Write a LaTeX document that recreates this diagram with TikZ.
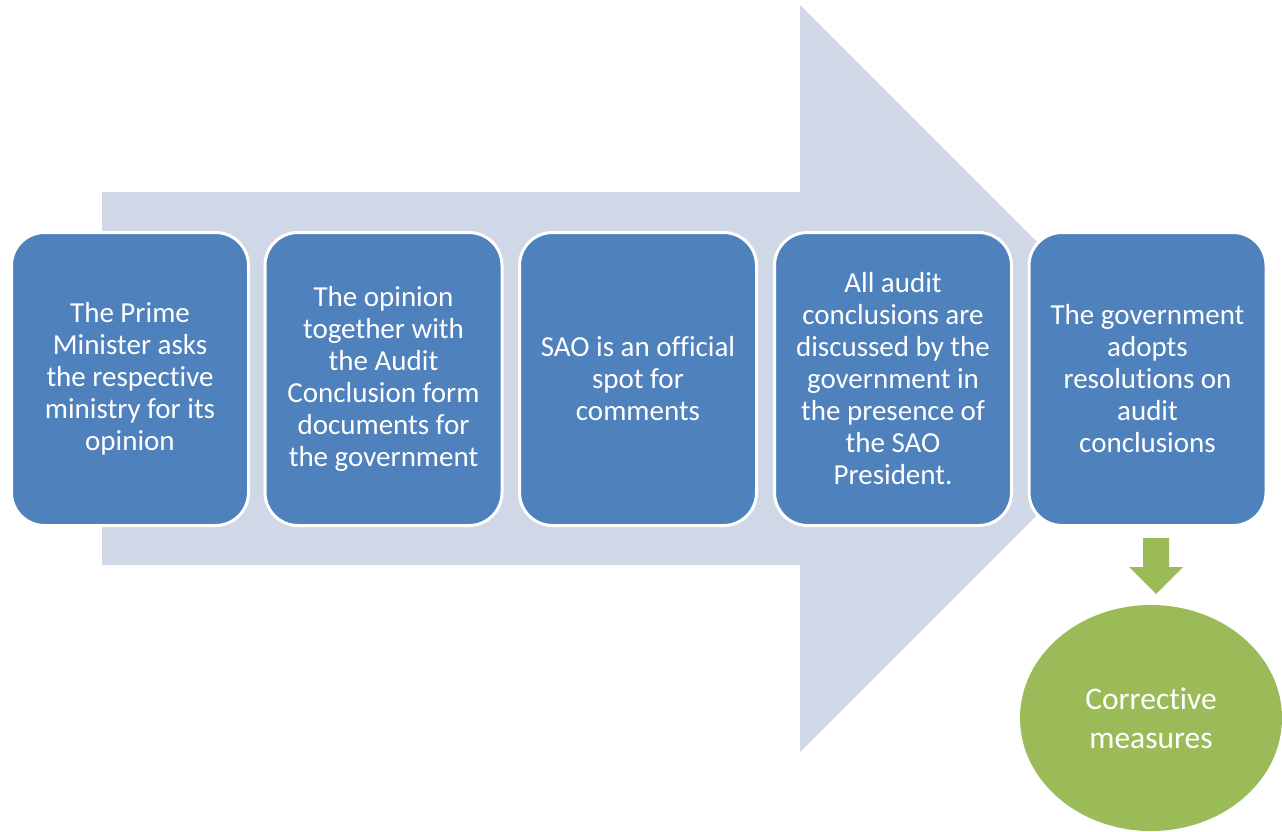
\documentclass[tikz,border=0pt]{standalone}
\usepackage{fontspec}
\setmainfont{Carlito}[Ligatures=NoCommon,RawFeature={-clig;-calt;-dlig}]
\usetikzlibrary{shapes.geometric}
\definecolor{boxblue}{HTML}{4F81BD}
\definecolor{arrowgrey}{HTML}{D0D8E8}
\definecolor{leafgreen}{HTML}{9BBB59}
\begin{document}
\begin{tikzpicture}[x=1pt,y=-1pt,
  stepbox/.style={draw=white, line width=3pt, fill=boxblue, rounded corners=33pt,
    minimum width=237pt, minimum height=293pt, text=white, align=center,
    font=\fontsize{29}{32}\selectfont, inner sep=0pt},
  goal/.style={ellipse, fill=leafgreen, minimum width=262pt, minimum height=226pt,
    text=white, align=center, font=\fontsize{31.5}{39}\selectfont, inner sep=0pt}]
\useasboundingbox (0,0) rectangle (1282,831);
% big background arrow
\fill[arrowgrey] (102,192) -- (800,192) -- (800,5) -- (1173.5,378.5) -- (800,752) -- (800,565) -- (102,565) -- cycle;
% steps
\node[stepbox] (b1) at (130,379) {The Prime\\Minister asks\\the respective\\ministry for its\\opinion};
\node[stepbox] (b2) at (383.5,379) {The opinion\\together with\\the Audit\\Conclusion form\\documents for\\the government};
\node[stepbox] (b3) at (638,379) {SAO is an official\\spot for\\comments};
\node[stepbox] (b4) at (893,379) {All audit\\conclusions are\\discussed by the\\government in\\the presence of\\the SAO\\President.};
\node[stepbox] (b5) at (1147.5,379) {The government\\adopts\\resolutions on\\audit\\conclusions};
% result
\node[goal] (res) at (1151,718) {Corrective\\measures};
% green block arrow
\fill[leafgreen] (1143,538) -- (1169,538) -- (1169,567) -- (1183,567) -- (1156,594) -- (1129,567) -- (1143,567) -- cycle;
\end{tikzpicture}
\end{document}
